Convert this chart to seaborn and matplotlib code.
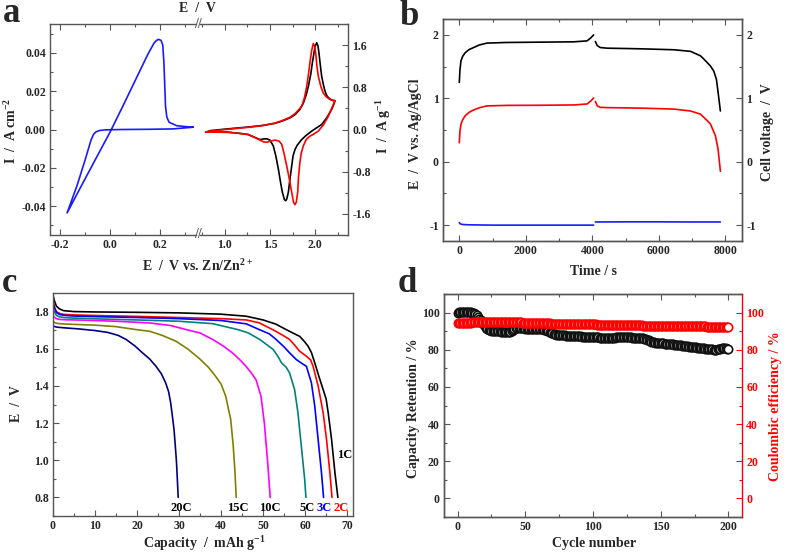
import matplotlib
matplotlib.use("Agg")
import matplotlib.pyplot as plt
from matplotlib.ticker import MultipleLocator, FormatStrFormatter
import seaborn as sns

# ---------------- panel a : cyclic voltammetry ----------------
# negative electrode (left part, A cm^-2)
cv_neg_e = [0.331, 0.25, 0.15, 0.05, -0.02, -0.04, -0.055, -0.065, -0.075, -0.10, -0.13, -0.17,
            -0.12, -0.06, 0.0, 0.05, 0.10, 0.15, 0.175, 0.183, 0.192, 0.203, 0.210, 0.2145,
            0.218, 0.221, 0.226, 0.235, 0.265, 0.30, 0.331]
cv_neg_i = [0.0012, 0.0003, 0.0001, 0.0, -0.0002, -0.0005, -0.0012, -0.0025, -0.0055, -0.0165, -0.029, -0.0435,
            -0.031, -0.0162, -0.0015, 0.0118, 0.0254, 0.039, 0.0450, 0.0462, 0.0470, 0.0465, 0.0440, 0.035,
            0.0224, 0.012, 0.0065, 0.0038, 0.0020, 0.0015, 0.0012]

# positive electrode (right part, A g^-1), two scans
cv_pos_black_e = [0.793, 0.85, 1.042, 1.25, 1.41, 1.55, 1.63, 1.72, 1.776, 1.83, 1.868, 1.90, 1.923, 1.95,
                  1.967, 1.985, 1.997, 2.015, 2.03, 2.04, 2.055, 2.07, 2.09, 2.107, 2.13, 2.16, 2.19, 2.217,
                  2.20, 2.18, 2.125, 2.07, 1.96, 1.90, 1.85, 1.80, 1.776, 1.755, 1.74, 1.72, 1.703, 1.685,
                  1.674, 1.66, 1.637, 1.615, 1.593, 1.565, 1.537, 1.50, 1.465, 1.43, 1.39, 1.32, 1.26, 1.15,
                  1.04, 0.90, 0.793]
cv_pos_black_i = [-0.05, -0.02, 0.013, 0.045, 0.075, 0.115, 0.157, 0.22, 0.28, 0.38, 0.50, 0.66, 0.815, 1.05,
                  1.26, 1.45, 1.577, 1.645, 1.58, 1.45, 1.22, 1.01, 0.84, 0.725, 0.63, 0.58, 0.555, 0.546,
                  0.46, 0.38, 0.22, 0.095, -0.03, -0.11, -0.19, -0.30, -0.38, -0.50, -0.69, -0.95, -1.19, -1.32,
                  -1.35, -1.33, -1.19, -0.98, -0.75, -0.50, -0.31, -0.20, -0.176, -0.18, -0.19, -0.14, -0.095, -0.07,
                  -0.05, -0.05, -0.05]
cv_pos_red_e = [0.793, 0.85, 1.042, 1.25, 1.41, 1.55, 1.63, 1.72, 1.776, 1.82, 1.85, 1.88, 1.905, 1.925,
                1.94, 1.96, 1.978, 1.992, 2.004, 2.018, 2.033, 2.06, 2.088, 2.12, 2.16, 2.19, 2.217,
                2.20, 2.17, 2.143, 2.09, 2.033, 1.98, 1.94, 1.90, 1.868, 1.845, 1.83, 1.815, 1.806, 1.79,
                1.776, 1.76, 1.74, 1.715, 1.685, 1.655, 1.63, 1.60, 1.556, 1.51, 1.465, 1.43, 1.39, 1.32,
                1.26, 1.15, 1.04, 0.90, 0.793]
cv_pos_red_i = [-0.05, -0.03, 0.005, 0.04, 0.07, 0.12, 0.165, 0.23, 0.30, 0.38, 0.44, 0.60, 0.815, 1.05,
                1.26, 1.50, 1.63, 1.58, 1.45, 1.20, 1.01, 0.82, 0.69, 0.62, 0.57, 0.55, 0.546,
                0.48, 0.36, 0.25, 0.09, -0.03, -0.09, -0.126, -0.19, -0.31, -0.45, -0.63, -0.90, -1.19, -1.38,
                -1.425, -1.38, -1.19, -0.95, -0.69, -0.45, -0.28, -0.22, -0.20, -0.22, -0.24, -0.235, -0.20, -0.14,
                -0.095, -0.07, -0.055, -0.05, -0.05]

# ---------------- panel b : charge / discharge vs time ----------------
cell_t1 = [0, 20, 50, 100, 180, 300, 430, 600, 830, 1430, 2440, 3440, 3840, 3950, 4040]
cell_v1 = [1.25, 1.45, 1.59, 1.66, 1.72, 1.77, 1.80, 1.84, 1.87, 1.88, 1.885, 1.89, 1.905, 1.95, 2.0]
cell_t2 = [4090, 4150, 4240, 4440, 5450, 6450, 6950, 7250, 7350, 7450, 7550, 7650, 7730, 7780, 7850]
cell_v2 = [1.895, 1.83, 1.80, 1.79, 1.78, 1.765, 1.74, 1.67, 1.62, 1.565, 1.51, 1.43, 1.30, 1.10, 0.80]
pos_t1 = [0, 20, 50, 100, 180, 300, 430, 600, 830, 1430, 2440, 3440, 3840, 3950, 4040]
pos_v1 = [0.30, 0.48, 0.59, 0.66, 0.727, 0.78, 0.816, 0.85, 0.88, 0.888, 0.89, 0.895, 0.91, 0.955, 1.005]
pos_t2 = [4090, 4150, 4240, 4440, 5450, 6450, 6950, 7250, 7350, 7450, 7550, 7700, 7780, 7850]
pos_v2 = [0.95, 0.88, 0.857, 0.853, 0.845, 0.83, 0.80, 0.75, 0.70, 0.65, 0.596, 0.41, 0.20, -0.15]
neg_t1 = [0, 30, 100, 300, 1000, 2000, 3000, 4040]
neg_v1 = [-0.96, -0.98, -0.99, -0.995, -1.0, -1.0, -1.0, -1.0]
neg_t2 = [4090, 5000, 6000, 7000, 7850]
neg_v2 = [-0.95, -0.948, -0.948, -0.95, -0.95]

# ---------------- panel c : discharge curves at different rates ----------------
rate_names = ["1C", "2C", "3C", "5C", "10C", "15C", "20C"]
rate_colors = ["#000000", "#ff0000", "#0000ff", "#008080", "#ff00ff", "#808000", "#000080"]
cap_1c = [0, 0.3, 0.8, 1.5, 2.5, 5, 10, 20, 30, 40, 46, 50, 53, 55.5, 57.5, 58.7, 59.8, 60.7, 61.5,
          62.3, 63.3, 64.3, 65.0, 65.5, 66.3, 67.1, 67.8]
v_1c = [1.89, 1.86, 1.83, 1.815, 1.805, 1.800, 1.798, 1.796, 1.793, 1.786, 1.775, 1.755, 1.733, 1.703,
        1.680, 1.667, 1.64, 1.614, 1.58, 1.524, 1.45, 1.38, 1.33, 1.255, 1.112, 0.933, 0.80]
cap_2c = [0, 0.3, 0.8, 1.5, 2.5, 5, 10, 20, 30, 40, 46, 49, 52.3, 54.5, 56.3, 57.5, 58.7, 60.3, 61.3,
          61.9, 63.1, 64.3, 65.1, 65.9, 66.4]
v_2c = [1.86, 1.83, 1.80, 1.79, 1.785, 1.782, 1.779, 1.774, 1.768, 1.762, 1.755, 1.74, 1.703, 1.675,
        1.65, 1.62, 1.587, 1.56, 1.54, 1.506, 1.40, 1.255, 1.112, 0.933, 0.80]
cap_3c = [0, 0.3, 0.8, 1.5, 2.5, 5, 10, 20, 30, 40, 46, 49.1, 51.5, 53.1, 55, 56.3, 57.9, 59.3, 60.3,
          61.5, 62.3, 63.1, 63.9, 64.4]
v_3c = [1.85, 1.82, 1.795, 1.785, 1.78, 1.776, 1.773, 1.768, 1.762, 1.752, 1.734, 1.703, 1.68, 1.65,
        1.61, 1.578, 1.542, 1.52, 1.506, 1.417, 1.291, 1.112, 0.933, 0.80]
cap_5c = [0, 0.3, 0.8, 1.5, 2.5, 5, 10, 20, 30, 38, 44, 46.5, 49.2, 51, 52.4, 53.5, 54.4, 55.5, 56.3,
          57.5, 58.3, 59.1, 59.9, 60.2]
v_5c = [1.82, 1.80, 1.78, 1.772, 1.768, 1.765, 1.761, 1.755, 1.748, 1.735, 1.703, 1.685, 1.65, 1.62,
        1.596, 1.56, 1.524, 1.50, 1.47, 1.38, 1.255, 1.076, 0.897, 0.80]
cap_10c = [0, 0.3, 0.8, 1.5, 3, 7, 15, 23, 28, 31.7, 35, 38, 40.5, 42.7, 44.5, 45.9, 47.2, 48.3, 49.5,
           50.3, 51.1, 51.7]
v_10c = [1.78, 1.77, 1.762, 1.758, 1.756, 1.754, 1.748, 1.739, 1.725, 1.703, 1.685, 1.65, 1.615, 1.578,
         1.54, 1.506, 1.47, 1.434, 1.345, 1.20, 0.987, 0.80]
cap_15c = [0, 0.3, 0.8, 2, 5, 10, 15, 19.8, 23, 26, 29.3, 32, 34.8, 37, 38.7, 40, 41.1, 42.3, 42.9,
           43.3, 43.6]
v_15c = [1.75, 1.742, 1.737, 1.734, 1.731, 1.727, 1.719, 1.703, 1.694, 1.672, 1.64, 1.60, 1.548, 1.50,
         1.452, 1.41, 1.345, 1.219, 1.076, 0.94, 0.80]
cap_20c = [0, 0.3, 1, 3, 6, 10, 13, 15.5, 17.4, 19.5, 21.3, 23, 24.5, 25.8, 26.8, 27.5, 28, 28.4, 28.8,
           29.1, 29.4, 29.8]
v_20c = [1.725, 1.72, 1.716, 1.712, 1.707, 1.698, 1.688, 1.672, 1.65, 1.615, 1.578, 1.545, 1.506, 1.465,
         1.417, 1.37, 1.31, 1.24, 1.166, 1.08, 0.987, 0.80]

# ---------------- panel d : cycling ----------------
cycles = list(range(201))
retention = [
    100.0, 100.2, 100.3, 100.3, 100.2, 100.2, 100.4, 100.5, 100.5, 100.4,
    100.2, 100.0, 99.6, 99.1, 98.5, 97.7, 96.8, 95.8, 94.7, 93.6,
    92.6, 91.8, 91.2, 90.8, 90.5, 90.3, 90.2, 90.1, 90.0, 90.0,
    89.9, 89.9, 89.8, 89.8, 89.7, 89.7, 89.6, 89.6, 89.6, 89.7,
    89.9, 90.4, 91.0, 91.5, 91.8, 91.9, 91.8, 91.7, 91.6, 91.5,
    91.4, 91.4, 91.3, 91.3, 91.2, 91.2, 91.1, 91.1, 91.0, 91.0,
    91.0, 91.0, 91.0, 90.9, 90.8, 90.6, 90.3, 89.9, 89.5, 89.1,
    88.8, 88.5, 88.3, 88.1, 88.0, 87.9, 87.8, 87.8, 87.7, 87.7,
    87.6, 87.6, 87.5, 87.5, 87.5, 87.4, 87.4, 87.3, 87.3, 87.3,
    87.2, 87.2, 87.1, 87.1, 87.0, 87.0, 87.0, 86.9, 86.9, 86.8,
    86.8, 86.7, 86.7, 86.6, 86.6, 86.5, 86.5, 86.4, 86.4, 86.3,
    86.3, 86.2, 86.2, 86.2, 86.1, 86.2, 86.4, 86.6, 86.8, 86.9,
    86.9, 86.9, 86.8, 86.8, 86.7, 86.7, 86.6, 86.6, 86.6, 86.5,
    86.5, 86.5, 86.5, 86.5, 86.4, 86.4, 86.3, 86.2, 86.0, 85.7,
    85.4, 85.0, 84.7, 84.4, 84.2, 84.0, 83.9, 83.8, 83.7, 83.6,
    83.5, 83.4, 83.4, 83.3, 83.3, 83.2, 83.2, 83.1, 83.0, 82.9,
    82.8, 82.7, 82.6, 82.5, 82.4, 82.3, 82.2, 82.1, 82.0, 81.9,
    81.8, 81.7, 81.6, 81.5, 81.5, 81.4, 81.3, 81.2, 81.1, 81.0,
    80.9, 80.8, 80.7, 80.6, 80.5, 80.4, 80.3, 80.2, 80.2, 80.1,
    80.1, 80.1, 80.2, 80.3, 80.5, 80.7, 80.8, 80.8, 80.7, 80.6,
    80.6]
coulombic = [
    94.3, 94.3, 94.4, 94.4, 94.4, 94.5, 94.5, 94.5, 94.6, 94.6,
    94.6, 94.7, 94.7, 94.7, 94.8, 94.8, 94.8, 94.9, 94.9, 94.9,
    95.0, 95.0, 95.0, 95.0, 95.1, 95.1, 95.1, 95.1, 95.1, 95.1,
    95.1, 95.1, 95.0, 95.0, 95.0, 95.0, 94.9, 94.9, 94.9, 94.9,
    94.8, 94.8, 94.8, 94.8, 94.7, 94.7, 94.7, 94.7, 94.6, 94.6,
    94.6, 94.6, 94.5, 94.5, 94.5, 94.5, 94.4, 94.4, 94.4, 94.4,
    94.3, 94.3, 94.3, 94.3, 94.3, 94.2, 94.2, 94.2, 94.2, 94.1,
    94.1, 94.1, 94.1, 94.1, 94.0, 94.0, 94.0, 94.0, 94.0, 93.9,
    93.9, 93.9, 93.9, 93.9, 93.9, 93.8, 93.8, 93.8, 93.8, 93.8,
    93.8, 93.7, 93.7, 93.7, 93.7, 93.7, 93.7, 93.6, 93.6, 93.6,
    93.6, 93.6, 93.6, 93.5, 93.5, 93.5, 93.5, 93.5, 93.5, 93.4,
    93.4, 93.4, 93.4, 93.4, 93.4, 93.4, 93.3, 93.3, 93.3, 93.3,
    93.3, 93.3, 93.3, 93.2, 93.2, 93.2, 93.2, 93.2, 93.2, 93.2,
    93.1, 93.1, 93.1, 93.1, 93.1, 93.1, 93.1, 93.0, 93.0, 93.0,
    93.0, 93.0, 93.0, 93.0, 92.9, 92.9, 92.9, 92.9, 92.9, 92.9,
    92.9, 92.9, 92.8, 92.8, 92.8, 92.8, 92.8, 92.8, 92.8, 92.8,
    92.8, 92.7, 92.7, 92.7, 92.7, 92.7, 92.7, 92.7, 92.7, 92.7,
    92.7, 92.7, 92.6, 92.6, 92.6, 92.6, 92.6, 92.6, 92.6, 92.6,
    92.6, 92.6, 92.6, 92.6, 92.5, 92.5, 92.5, 92.5, 92.5, 92.5,
    92.5, 92.5, 92.5, 92.5, 92.5, 92.5, 92.5, 92.5, 92.5, 92.5,
    92.5]

# ---------------- style ----------------
sns.set_style("ticks")
plt.rcParams["font.family"] = ["Liberation Serif", "DejaVu Serif"]
plt.rcParams["font.weight"] = "bold"
plt.rcParams["axes.labelweight"] = "bold"
plt.rcParams["axes.unicode_minus"] = False
plt.rcParams["mathtext.fontset"] = "custom"
plt.rcParams["mathtext.rm"] = "Liberation Serif:bold"
plt.rcParams["mathtext.bf"] = "Liberation Serif:bold"
plt.rcParams["mathtext.it"] = "Liberation Serif:italic:bold"
plt.rcParams["mathtext.default"] = "rm"

SPINE = "#555555"
W, H = 787, 554
fig = plt.figure(figsize=(W / 100, H / 100), dpi=100)


def rect(x0, y0, x1, y1):
    return [x0 / W, 1 - y1 / H, (x1 - x0) / W, (y1 - y0) / H]


def style(ax, left=True, right=False, top=True, bottom=True, color=SPINE):
    for s in ax.spines.values():
        s.set_color(SPINE)
        s.set_linewidth(1.0)
    ax.tick_params(which="both", direction="in", left=left, right=right, top=top, bottom=bottom,
                   color=color, width=0.8, labelsize=8.5, pad=3)
    ax.tick_params(which="major", length=4)
    ax.tick_params(which="minor", length=2.5)


def line(ax, x, y, color, lw=1.2):
    sns.lineplot(x=x, y=y, ax=ax, color=color, lw=lw, sort=False, estimator=None)


def ftext(x, y, s, **kw):
    kw.setdefault("ha", "center")
    kw.setdefault("va", "center")
    kw.setdefault("fontsize", 10)
    kw.setdefault("fontweight", "bold")
    fig.text(x / W, 1 - y / H, s, **kw)


# ---- a ----
ax_a1 = fig.add_axes(rect(50, 24, 196, 235))
ax_a2 = fig.add_axes(rect(200, 24, 348, 235))
line(ax_a1, cv_neg_e, cv_neg_i, "#1a1aff")
line(ax_a2, cv_pos_black_e, cv_pos_black_i, "#000000")
line(ax_a2, cv_pos_red_e, cv_pos_red_i, "#ff0000")
ax_a1.set_xlim(-0.238, 0.342)
ax_a1.set_ylim(-0.055, 0.055)
ax_a2.set_xlim(0.730, 2.360)
ax_a2.set_ylim(-2.0, 2.0)
style(ax_a1, left=True, right=False)
style(ax_a2, left=False, right=True)
ax_a1.spines["right"].set_visible(False)
ax_a2.spines["left"].set_visible(False)
ax_a2.yaxis.tick_right()
ax_a2.tick_params(which="both", left=False, right=True)
ax_a1.xaxis.set_major_locator(MultipleLocator(0.2))
ax_a1.xaxis.set_minor_locator(MultipleLocator(0.1))
ax_a1.xaxis.set_major_formatter(FormatStrFormatter("%.1f"))
ax_a1.yaxis.set_major_locator(MultipleLocator(0.02))
ax_a1.yaxis.set_minor_locator(MultipleLocator(0.01))
ax_a1.yaxis.set_major_formatter(FormatStrFormatter("%.2f"))
ax_a2.xaxis.set_major_locator(MultipleLocator(0.5))
ax_a2.xaxis.set_minor_locator(MultipleLocator(0.25))
ax_a2.xaxis.set_major_formatter(FormatStrFormatter("%.1f"))
ax_a2.yaxis.set_major_locator(MultipleLocator(0.8))
ax_a2.yaxis.set_minor_locator(MultipleLocator(0.4))
ax_a2.yaxis.set_major_formatter(FormatStrFormatter("%.1f"))
for ax in (ax_a1, ax_a2):
    ax.set_xlabel("")
    ax.set_ylabel("")
ftext(198, 24, "//", fontsize=10, color=SPINE)
ftext(198, 235, "//", fontsize=10, color=SPINE)
ftext(197, 9, "E  /  V")
ftext(197, 266, "E  /  V vs. Zn/Zn$^{2+}$")
ftext(11, 131, "I  /  A cm$^{-2}$", rotation=90)
ftext(384, 126, "I  /  A g$^{-1}$", rotation=90)

# ---- b ----
ax_b = fig.add_axes(rect(443, 19, 742, 241))
line(ax_b, cell_t1, cell_v1, "#000000")
line(ax_b, cell_t2, cell_v2, "#000000")
line(ax_b, pos_t1, pos_v1, "#ff0000")
line(ax_b, pos_t2, pos_v2, "#ff0000")
line(ax_b, neg_t1, neg_v1, "#1a1aff")
line(ax_b, neg_t2, neg_v2, "#1a1aff")
ax_b.set_xlim(-490, 8500)
ax_b.set_ylim(-1.25, 2.25)
ax_b2 = ax_b.twinx()
ax_b2.set_ylim(-1.25, 2.25)
style(ax_b, right=False)
style(ax_b2, left=False, right=True)
for ax in (ax_b, ax_b2):
    ax.yaxis.set_major_locator(MultipleLocator(1))
    ax.yaxis.set_minor_locator(MultipleLocator(0.5))
ax_b.xaxis.set_major_locator(MultipleLocator(2000))
ax_b.xaxis.set_minor_locator(MultipleLocator(1000))
ax_b.set_xlabel("")
ax_b.set_ylabel("")
ftext(594, 271, "Time / s")
ftext(415, 134, "E  /  V vs. Ag/AgCl", rotation=90)
ftext(768, 132, "Cell voltage  /  V", rotation=90)

# ---- c ----
ax_c = fig.add_axes(rect(53, 293, 353, 516))
curves = [(cap_1c, v_1c), (cap_2c, v_2c), (cap_3c, v_3c), (cap_5c, v_5c),
          (cap_10c, v_10c), (cap_15c, v_15c), (cap_20c, v_20c)]
for (cx, cy), col in zip(curves, rate_colors):
    line(ax_c, cx, cy, col)
ax_c.set_xlim(0, 71.4)
ax_c.set_ylim(0.70, 1.90)
style(ax_c, top=False, right=False)
ax_c.xaxis.set_major_locator(MultipleLocator(10))
ax_c.xaxis.set_minor_locator(MultipleLocator(5))
ax_c.yaxis.set_major_locator(MultipleLocator(0.2))
ax_c.yaxis.set_minor_locator(MultipleLocator(0.1))
ax_c.yaxis.set_major_formatter(FormatStrFormatter("%.1f"))
ax_c.set_xlabel("")
ax_c.set_ylabel("")
label_pos = {"1C": (69.4, 1.03), "2C": (68.6, 0.742), "3C": (64.6, 0.742), "5C": (60.6, 0.742),
             "10C": (51.7, 0.742), "15C": (44.1, 0.742), "20C": (30.5, 0.742)}
label_col = {"3C": "#0000ff", "2C": "#ff0000"}
for name in rate_names:
    lx, ly = label_pos[name]
    ax_c.text(lx, ly, name, ha="center", va="center", fontsize=9, fontweight="bold",
              color=label_col.get(name, "#000000"))
ftext(204, 544, "Capacity  /  mAh g$^{-1}$")
ftext(17, 404, "E  /  V", rotation=90)

# ---- d ----
ax_d = fig.add_axes(rect(444, 294, 742, 517))
sns.scatterplot(x=cycles, y=retention, ax=ax_d, marker="o", s=36, color="black",
                facecolor="white", edgecolor="#111111", linewidth=1.2, zorder=3)
ax_d.set_xlim(-10, 210)
ax_d.set_ylim(-10, 110)
ax_d2 = ax_d.twinx()
sns.scatterplot(x=cycles, y=coulombic, ax=ax_d2, marker="o", s=36, color="red",
                facecolor="white", edgecolor="#ff0000", linewidth=1.2, zorder=3)
ax_d2.set_ylim(-10, 110)
style(ax_d, right=False)
style(ax_d2, left=False, right=True, color="#ff0000")
ax_d.spines["right"].set_visible(False)
ax_d2.spines["right"].set_color("#ff0000")
ax_d2.tick_params(axis="y", labelcolor="#ff0000")
for ax in (ax_d, ax_d2):
    ax.yaxis.set_major_locator(MultipleLocator(20))
    ax.yaxis.set_minor_locator(MultipleLocator(10))
    ax.set_xlabel("")
    ax.set_ylabel("")
ax_d.xaxis.set_major_locator(MultipleLocator(50))
ax_d.xaxis.set_minor_locator(MultipleLocator(25))
ftext(594, 544, "Cycle number")
ftext(413, 408, "Capacity Retention / %", rotation=90)
ftext(776, 406, "Coulombic efficiency / %", rotation=90, color="#ff0000")

# panel letters
ftext(3, 22, "a", fontsize=25, ha="left", va="baseline")
ftext(400, 25, "b", fontsize=25, ha="left", va="baseline")
ftext(2, 292, "c", fontsize=25, ha="left", va="baseline")
ftext(398, 292, "d", fontsize=25, ha="left", va="baseline")

fig.savefig("out.png", dpi=100)
